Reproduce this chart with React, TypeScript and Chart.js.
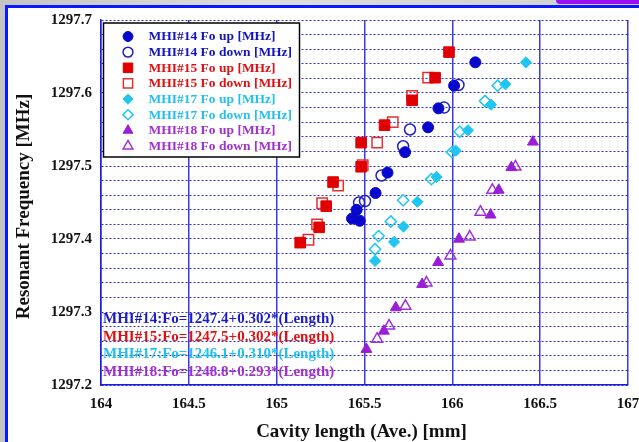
import React, { useEffect, useRef } from 'react';
import { Chart, registerables } from 'chart.js';

Chart.register(...registerables);

// ---------- data ----------
const mhi14UpLen = [166.131, 166.010, 165.921, 165.862, 165.731, 165.631, 165.563, 165.455, 165.429, 165.473];
const mhi14UpFreq = [1297.642, 1297.610, 1297.579, 1297.553, 1297.519, 1297.491, 1297.463, 1297.440, 1297.428, 1297.425];
const mhi14DownLen = [166.035, 165.953, 165.759, 165.720, 165.597, 165.469, 165.503];
const mhi14DownFreq = [1297.611, 1297.580, 1297.550, 1297.527, 1297.487, 1297.450, 1297.452];

const mhi15UpLen = [165.981, 165.902, 165.771, 165.614, 165.481, 165.481, 165.321, 165.282, 165.242, 165.134];
const mhi15UpFreq = [1297.656, 1297.621, 1297.590, 1297.556, 1297.532, 1297.499, 1297.478, 1297.445, 1297.416, 1297.395];
const mhi15DownLen = [165.862, 165.771, 165.661, 165.572, 165.490, 165.350, 165.259, 165.230, 165.181];
const mhi15DownFreq = [1297.621, 1297.596, 1297.560, 1297.532, 1297.501, 1297.473, 1297.449, 1297.420, 1297.399];

const mhi17UpLen = [166.419, 166.302, 166.220, 166.089, 166.019, 165.910, 165.801, 165.722, 165.668, 165.560];
const mhi17UpFreq = [1297.642, 1297.612, 1297.584, 1297.549, 1297.521, 1297.485, 1297.451, 1297.417, 1297.396, 1297.370];
const mhi17DownLen = [166.258, 166.186, 166.042, 165.998, 165.881, 165.720, 165.650, 165.580, 165.560];
const mhi17DownFreq = [1297.610, 1297.589, 1297.547, 1297.519, 1297.482, 1297.453, 1297.424, 1297.404, 1297.386];

const mhi18UpLen = [166.459, 166.336, 166.264, 166.218, 166.038, 165.919, 165.828, 165.678, 165.610, 165.511];
const mhi18UpFreq = [1297.533, 1297.498, 1297.467, 1297.433, 1297.400, 1297.368, 1297.338, 1297.306, 1297.274, 1297.249];
const mhi18DownLen = [166.359, 166.228, 166.160, 166.099, 165.989, 165.853, 165.733, 165.640, 165.572];
const mhi18DownFreq = [1297.499, 1297.467, 1297.437, 1297.403, 1297.377, 1297.340, 1297.308, 1297.281, 1297.263];

const seriesLabels = [
  'MHI#14 Fo up [MHz]',
  'MHI#14 Fo down [MHz]',
  'MHI#15 Fo up [MHz]',
  'MHI#15 Fo down [MHz]',
  'MHI#17 Fo up [MHz]',
  'MHI#17 Fo down [MHz]',
  'MHI#18 Fo up [MHz]',
  'MHI#18 Fo down [MHz]',
];

const fitLabels = [
  'MHI#14:Fo=1247.4+0.302*(Length)',
  'MHI#15:Fo=1247.5+0.302*(Length)',
  'MHI#17:Fo=1246.1+0.310*(Length)',
  'MHI#18:Fo=1248.8+0.293*(Length)',
];

const xTickValues = [164, 164.5, 165, 165.5, 166, 166.5, 167];
const yTickLabels = ['1297.2', '1297.3', '1297.4', '1297.5', '1297.6', '1297.7'];
const xTitle = 'Cavity length (Ave.) [mm]';
const yTitle = 'Resonant Frequency [MHz]';

// ---------- styles ----------
const BLUE = '#0808cc';
const RED = '#e00000';
const CYAN = '#1ec6f2';
const PURPLE = '#9a1ed4';
const FONT = "'Liberation Serif', 'Times New Roman', serif";

const styles = [
  { color: BLUE, shape: 'circle', filled: true, r: 5.5 },
  { color: '#2020c4', shape: 'circle', filled: false, r: 5.5 },
  { color: RED, shape: 'rect', filled: true, r: 7.5 },
  { color: '#e43030', shape: 'rect', filled: false, r: 7.3 },
  { color: CYAN, shape: 'rectRot', filled: true, r: 5.6 },
  { color: CYAN, shape: 'rectRot', filled: false, r: 5.6 },
  { color: PURPLE, shape: 'triangle', filled: true, r: 6.3 },
  { color: '#a030d6', shape: 'triangle', filled: false, r: 6.3 },
];
const legendTextColors = ['#1414c0', '#1414c0', '#e01010', '#e01010', '#22c0f0', '#22c0f0', '#a030d0', '#a030d0'];
const fitColors = ['#1a1ac8', '#e01010', '#22c0f0', '#a030d0'];

const seriesX = [mhi14UpLen, mhi14DownLen, mhi15UpLen, mhi15DownLen, mhi17UpLen, mhi17DownLen, mhi18UpLen, mhi18DownLen];
const seriesY = [mhi14UpFreq, mhi14DownFreq, mhi15UpFreq, mhi15DownFreq, mhi17UpFreq, mhi17DownFreq, mhi18UpFreq, mhi18DownFreq];

function drawMarker(ctx: CanvasRenderingContext2D, shape: string, x: number, y: number, r: number, color: string, filled: boolean) {
  ctx.save();
  ctx.beginPath();
  if (shape === 'circle') {
    ctx.arc(x, y, r, 0, Math.PI * 2);
  } else if (shape === 'rect') {
    const s = r * Math.SQRT1_2;
    ctx.rect(x - s, y - s, 2 * s, 2 * s);
  } else if (shape === 'rectRot') {
    ctx.moveTo(x, y - r);
    ctx.lineTo(x + r, y);
    ctx.lineTo(x, y + r);
    ctx.lineTo(x - r, y);
    ctx.closePath();
  } else {
    const a = (2 * Math.PI) / 3;
    ctx.moveTo(x, y - r);
    ctx.lineTo(x + Math.sin(a) * r, y - Math.cos(a) * r);
    ctx.lineTo(x + Math.sin(2 * a) * r, y - Math.cos(2 * a) * r);
    ctx.closePath();
  }
  if (filled) {
    ctx.fillStyle = color;
    ctx.fill();
  }
  ctx.strokeStyle = color;
  ctx.lineWidth = filled ? 1 : 1.5;
  ctx.stroke();
  ctx.restore();
}

const overlayPlugin = {
  id: 'overlay',
  afterDraw(chart: any) {
    const { ctx, chartArea } = chart;
    const { left, top, bottom } = chartArea;
    ctx.save();
    // legend box
    const bx = left + 2.5;
    const by = top + 3;
    const bw = 196;
    const bh = 134;
    ctx.fillStyle = '#ffffff';
    ctx.fillRect(bx, by, bw, bh);
    ctx.strokeStyle = '#000000';
    ctx.lineWidth = 1.5;
    ctx.strokeRect(bx, by, bw, bh);
    ctx.font = `bold 13.5px ${FONT}`;
    ctx.textBaseline = 'middle';
    ctx.textAlign = 'left';
    seriesLabels.forEach((lab, i) => {
      const y = by + 13.5 + i * 15.65;
      const st = styles[i];
      drawMarker(ctx, st.shape, bx + 24.5, y, st.r * 0.9, st.color, st.filled);
      ctx.fillStyle = legendTextColors[i];
      ctx.fillText(lab, bx + 45, y + 0.5);
    });
    // fit equations
    ctx.font = `bold 15px ${FONT}`;
    fitLabels.forEach((t, i) => {
      ctx.fillStyle = fitColors[i];
      ctx.fillText(t, left + 2, bottom - 65.5 + i * 17.5);
    });
    // axis titles
    ctx.fillStyle = '#111111';
    ctx.font = `bold 19px ${FONT}`;
    ctx.textAlign = 'center';
    ctx.fillText(xTitle, (chartArea.left + chartArea.right) / 2 - 3, 432);
    ctx.translate(24, (chartArea.top + chartArea.bottom) / 2 + 4);
    ctx.rotate(-Math.PI / 2);
    ctx.fillText(yTitle, 0, 0);
    ctx.restore();
  },
};

export default function App() {
  const ref = useRef<HTMLCanvasElement | null>(null);

  useEffect(() => {
    if (!ref.current) return;
    const datasets = seriesLabels.map((label, i) => {
      const st = styles[i];
      return {
        label,
        data: seriesX[i].map((x, j) => ({ x, y: seriesY[i][j] })),
        pointStyle: st.shape,
        pointRadius: st.r,
        pointHoverRadius: st.r,
        pointBackgroundColor: st.filled ? st.color : 'rgba(0,0,0,0)',
        pointBorderColor: st.color,
        pointBorderWidth: st.filled ? 1 : 1.5,
        showLine: false,
      };
    });

    const chart = new Chart(ref.current, {
      type: 'scatter',
      data: { datasets },
      options: {
        responsive: false,
        animation: false,
        devicePixelRatio: 1,
        events: [],
        layout: { padding: { top: 20, right: 11, left: 0, bottom: 0 } },
        plugins: { legend: { display: false }, tooltip: { enabled: false } },
        scales: {
          x: {
            type: 'linear',
            min: 164,
            max: 167,
            afterBuildTicks: (s: any) => {
              s.ticks = xTickValues.map((v) => ({ value: v }));
            },
            afterFit: (s: any) => {
              s.height = 57;
              s.paddingLeft = 0;
              s.paddingRight = 0;
            },
            ticks: {
              autoSkip: false,
              maxRotation: 0,
              padding: 10,
              color: '#111111',
              font: { family: FONT, size: 15, weight: 'bold' },
              callback: (v: any) => String(v),
            },
            grid: { color: '#3a3ae0', lineWidth: 1.5, drawTicks: false },
            border: { color: '#1a1ae6', width: 1.5 },
          },
          y: {
            type: 'linear',
            min: 1297.2,
            max: 1297.7,
            afterBuildTicks: (s: any) => {
              const t = [];
              for (let k = 0; k <= 25; k++) t.push({ value: 1297.2 + k * 0.02 });
              s.ticks = t;
            },
            afterFit: (s: any) => {
              s.width = 101;
              s.paddingTop = 0;
              s.paddingBottom = 0;
            },
            ticks: {
              autoSkip: false,
              padding: 9,
              color: '#111111',
              font: { family: FONT, size: 15, weight: 'bold' },
              callback: (v: any) => {
                const lab = yTickLabels.find((l) => Math.abs(parseFloat(l) - v) < 1e-6);
                return lab ?? '';
              },
            },
            grid: { color: '#2c2cdc', lineWidth: 1, drawTicks: false },
            border: { color: '#1a1ae6', width: 1.5, dash: [2, 2] },
          },
        },
      },
      plugins: [overlayPlugin],
    } as any);
    return () => chart.destroy();
  }, []);

  return (
    <div
      style={{
        position: 'fixed',
        left: 0,
        top: 0,
        width: 639,
        height: 442,
        overflow: 'hidden',
        background: 'linear-gradient(90deg, #c4c4c4, #dedede 40%, #cfcfcf)',
      }}
    >
      <div
        style={{
          position: 'absolute',
          left: 556,
          top: -4,
          width: 120,
          height: 8,
          borderRadius: 6,
          background: '#9a10f0',
        }}
      />
      <div
        style={{
          position: 'absolute',
          left: 5,
          top: 5,
          width: 700,
          height: 500,
          background: '#ffffff',
          borderLeft: '3px solid #0a18ff',
          borderTop: '3px solid #0a18ff',
        }}
      />
      <canvas ref={ref} width={639} height={442} style={{ position: 'absolute', left: 0, top: 0 }} />
    </div>
  );
}
